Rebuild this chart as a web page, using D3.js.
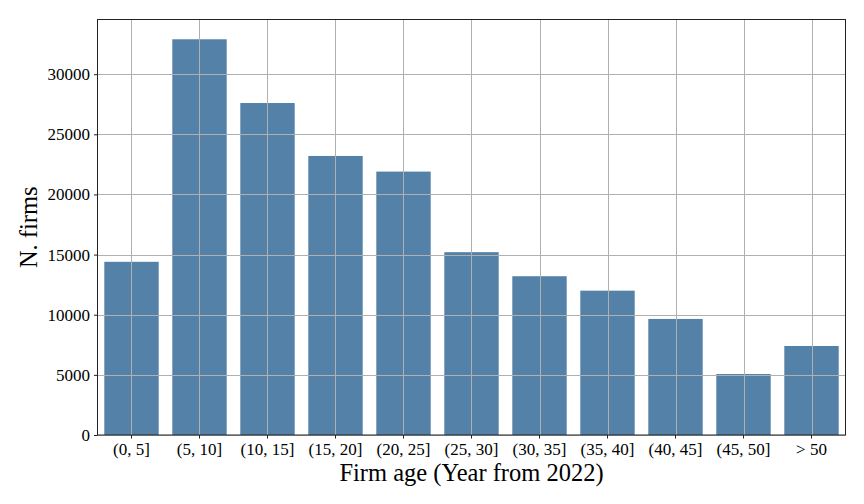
<!DOCTYPE html>
<html><head><meta charset="utf-8">
<script src="https://cdn.jsdelivr.net/npm/d3@7/dist/d3.min.js"></script>
<style>
body{margin:0;background:#fff;}
text{font-family:"Liberation Serif","DejaVu Serif",serif;fill:#000;}
</style></head>
<body><svg id="c" width="864" height="504"></svg>
<script>
const categories = ["(0, 5]","(5, 10]","(10, 15]","(15, 20]","(20, 25]","(25, 30]","(30, 35]","(35, 40]","(40, 45]","(45, 50]","> 50"];
const firms = [14400, 32900, 27600, 23200, 21900, 15200, 13200, 12000, 9650, 5070, 7400];
const yTicks = [0, 5000, 10000, 15000, 20000, 25000, 30000];

const svg = d3.select("#c");
const L = 97.5, R = 845.5, T = 19.5, B = 435;
const x = d3.scaleBand().domain(categories).range([L, R]).paddingInner(0.2).paddingOuter(0.1);
const y = d3.scaleLinear().domain([0, d3.max(firms) * 1.05]).range([B, T]);

// bars
svg.append("g").selectAll("rect").data(firms).join("rect")
  .attr("x", (d, i) => x(categories[i]))
  .attr("width", x.bandwidth())
  .attr("y", d => y(d))
  .attr("height", d => B - y(d))
  .attr("fill", "#5381a7");

// grid (on top)
const grid = svg.append("g").attr("stroke", "#b0b0b0").attr("stroke-width", 1);
yTicks.forEach(t => grid.append("line").attr("x1", L).attr("x2", R)
  .attr("y1", Math.round(y(t)) + 0.5).attr("y2", Math.round(y(t)) + 0.5));
categories.forEach(c => { const cx = Math.round(x(c) + x.bandwidth() / 2) + 0.5;
  grid.append("line").attr("x1", cx).attr("x2", cx).attr("y1", T).attr("y2", B); });

// axes
const ya = d3.axisLeft(y).tickValues(yTicks).tickSize(3.5).tickPadding(4).tickFormat(d3.format("d"));
svg.append("g").attr("transform", `translate(${L},0)`).call(ya)
  .attr("font-family", null).attr("font-size", null)
  .call(g => g.select(".domain").remove())
  .call(g => g.selectAll("text").style("font-size", "17px").style("font-family", '"Liberation Serif",serif'))
  .call(g => g.selectAll("line").attr("stroke", "#222"));
const xa = d3.axisBottom(x).tickSize(3.5).tickPadding(4);
svg.append("g").attr("transform", `translate(0,${B})`).call(xa)
  .attr("font-family", null).attr("font-size", null)
  .call(g => g.select(".domain").remove())
  .call(g => g.selectAll("text").style("font-size", "17px").style("font-family", '"Liberation Serif",serif'))
  .call(g => g.selectAll("line").attr("stroke", "#222"));

// frame
svg.append("rect").attr("x", L).attr("y", T).attr("width", R - L).attr("height", B - T)
  .attr("fill", "none").attr("stroke", "#222").attr("stroke-width", 1);

// labels
svg.append("text").attr("x", (L + R) / 2).attr("y", 481).attr("text-anchor", "middle")
  .style("font-size", "24.5px").text("Firm age (Year from 2022)");
svg.append("text").attr("transform", `translate(37,${(T + B) / 2}) rotate(-90)`).attr("text-anchor", "middle")
  .style("font-size", "24.5px").text("N. firms");
</script></body></html>
